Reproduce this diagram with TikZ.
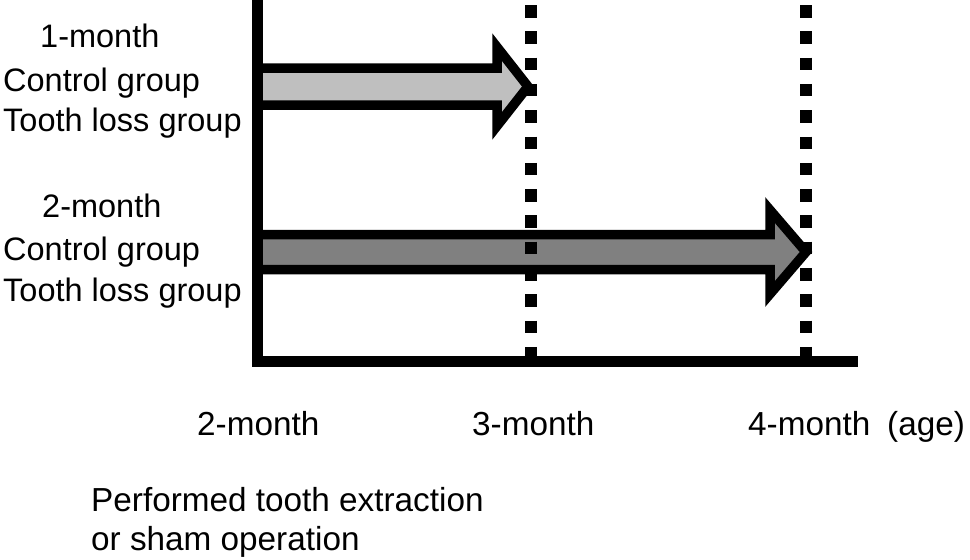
\documentclass[tikz,border=0pt]{standalone}
\usepackage{fontspec}
\setmainfont{Liberation Sans}
\definecolor{shortgray}{gray}{0.75}
\definecolor{longgray}{gray}{0.5}
\begin{document}
\begin{tikzpicture}[x=1pt,y=-1pt,
        lbl/.style={anchor=base west,inner sep=0pt,font=\fontsize{32.5}{39}\selectfont},
        agelbl/.style={lbl,font=\fontsize{33.3}{40}\selectfont},
        period/.style={draw=black,line width=9.5pt,miter limit=10},
        agemark/.style={line width=12pt,dash pattern=on 12.5pt off 13.8pt}]
        \useasboundingbox (0,0) rectangle (970,560);
        \coordinate (top) at (257.5,0);
        \coordinate (O) at (257.5,361);
        \coordinate (end) at (858,361);
        \coordinate (m3) at (531,5);
        \coordinate (m4) at (806,5);
        % observation periods
        \filldraw[period,fill=shortgray] (258,68) -- (497,68) -- (497,47) -- (528,86.5)
            -- (497,126) -- (497,105) -- (258,105) -- cycle;
        \filldraw[period,fill=longgray] (258,234.5) -- (770,234.5) -- (770,210) -- (806,252)
            -- (770,294) -- (770,269.5) -- (258,269.5) -- cycle;
        % axes
        \draw[agemark] (m3) -- (m3 |- O);
        \draw[agemark] (m4) -- (m4 |- O);
        \draw[line width=11pt] (top) -- (O) -- (end);
        % groups
        \node[lbl] (g1) at (40,47) {1-month};
        \node[lbl] (c1) at (3,91) {Control group};
        \node[lbl] (t1) at (3,131) {Tooth loss group};
        \node[lbl] (g2) at (42,217) {2-month};
        \node[lbl] (c2) at (3,260) {Control group};
        \node[lbl] (t2) at (3,301) {Tooth loss group};
        % ages
        \node[agelbl] (a2) at (197,435) {2-month};
        \node[agelbl] (a3) at (472,435) {3-month};
        \node[agelbl] (a4) at (748,435) {4-month};
        \node[agelbl] (age) at (887,435) {(age)};
        \node[agelbl] (op1) at (91,511) {Performed tooth extraction};
        \node[agelbl] (op2) at (91,550) {or sham operation};
    \end{tikzpicture}
\end{document}
